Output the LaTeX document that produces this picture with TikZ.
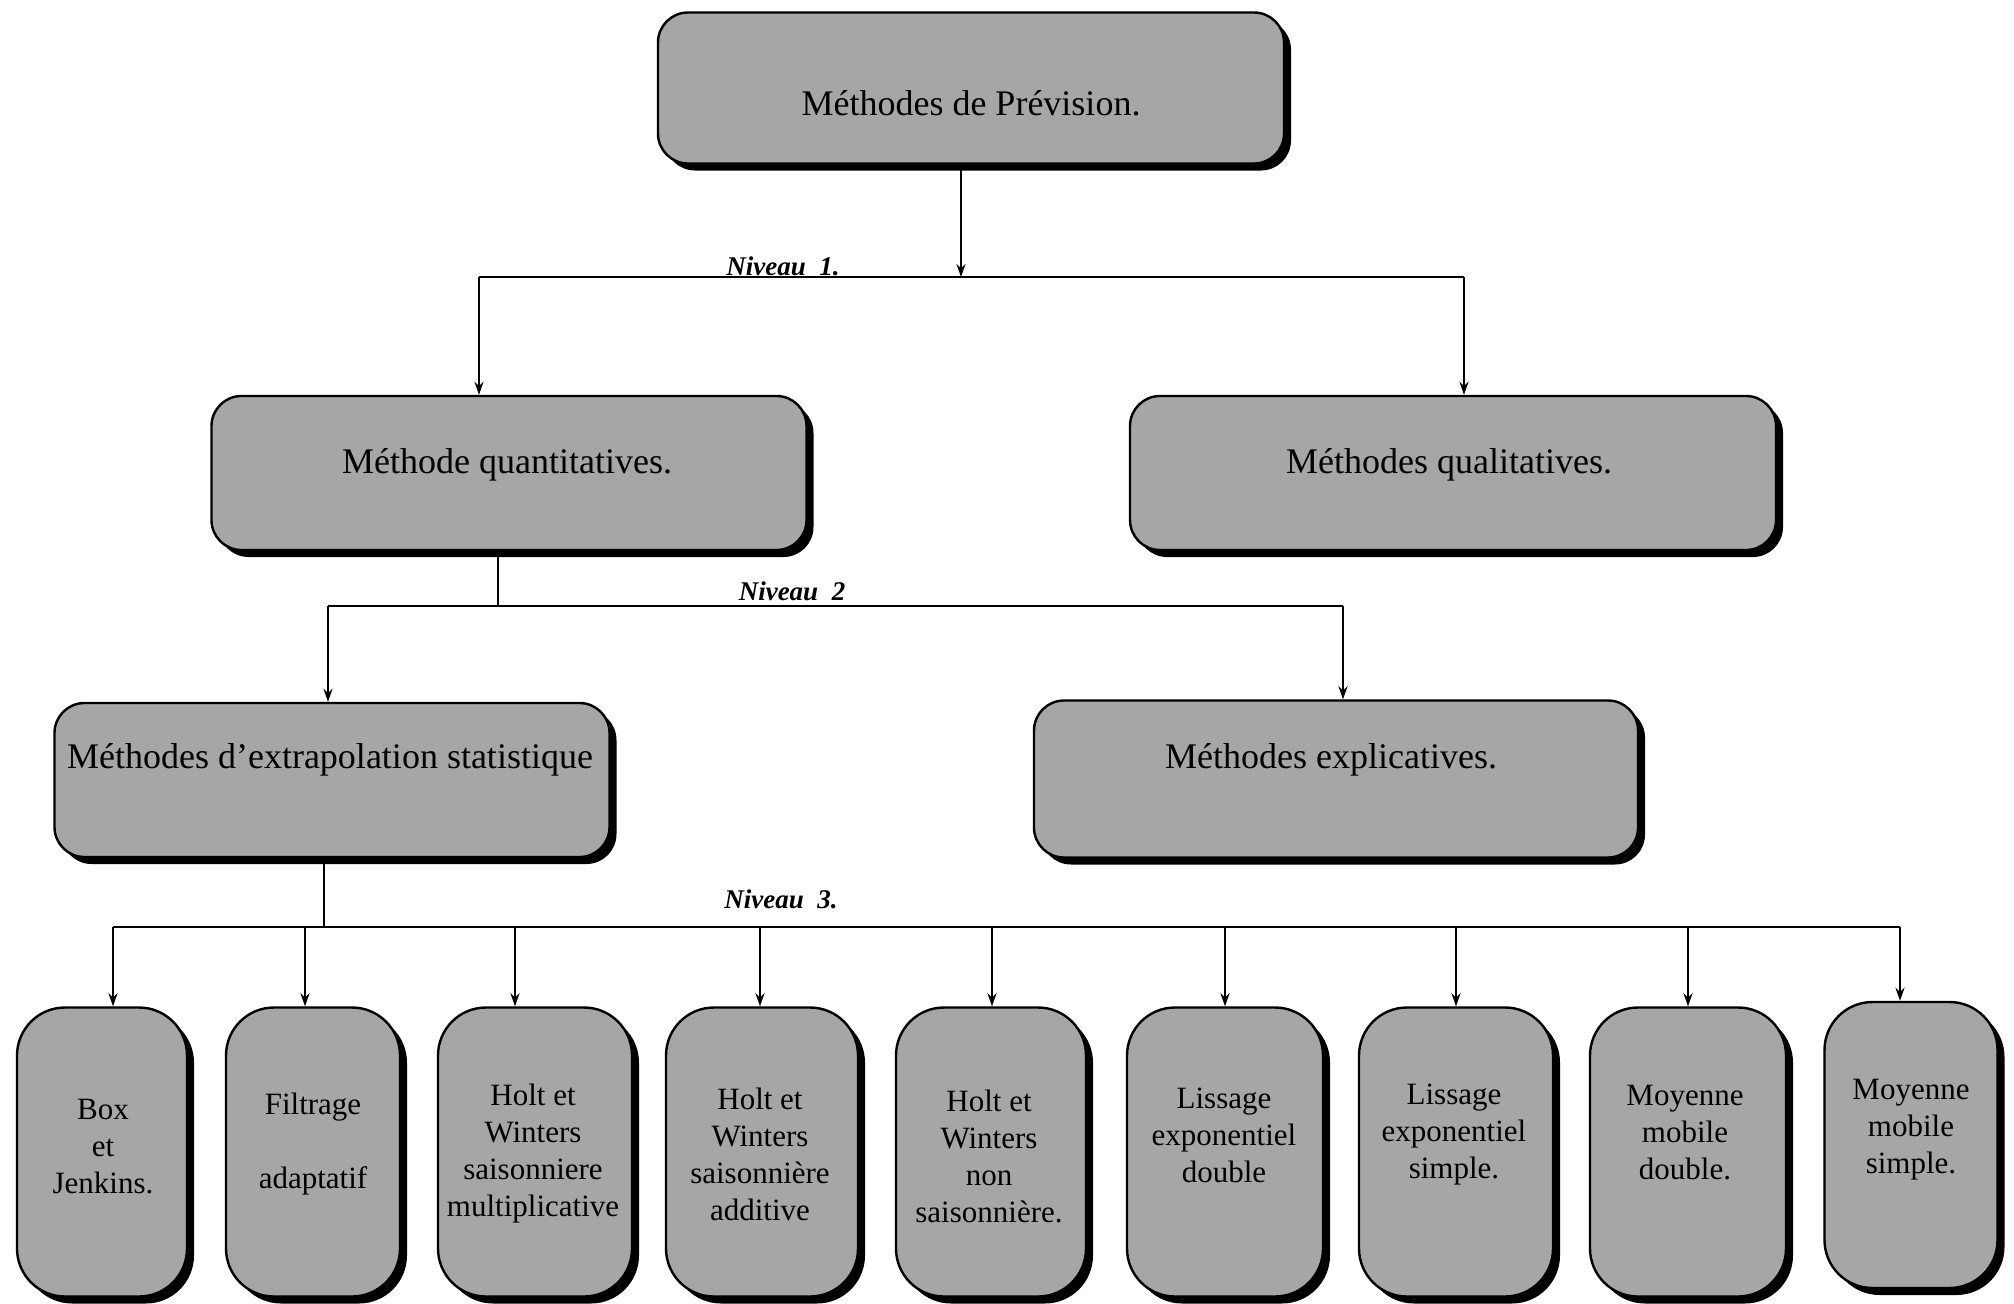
\documentclass[tikz,border=0pt]{standalone}
\usepackage{fontspec}
\setmainfont{Liberation Serif}
\usetikzlibrary{shadows,arrows.meta,calc}
\begin{document}
\begin{tikzpicture}[x=1pt,y=-1pt,
  box/.style={draw=black, line width=2.4pt, fill=black!35, rounded corners=#1,
    drop shadow={shadow xshift=7pt, shadow yshift=-7pt, fill=black, opacity=1},
    inner sep=0pt},
  big/.style={inner sep=0pt, align=center, font=\fontsize{36}{43}\selectfont},
  small/.style={inner sep=0pt, align=center, font=\fontsize{31}{37}\selectfont},
  niv/.style={inner sep=0pt, font=\fontsize{27}{30}\selectfont\bfseries\itshape},
  conn/.style={line width=2.2pt},
  arr/.style={line width=2.2pt, -{Stealth[length=13pt,width=9pt]}}
]
\useasboundingbox (0,0) rectangle (2014,1304);
\fill[white] (0,0) rectangle (2014,1304);

% level 0
\node[box=30pt, minimum width=626pt, minimum height=151pt] (top) at (971,88) {};
\node[big] (ttop) at (971,103) {Méthodes de Prévision.};

% level 1
\node[box=30pt, minimum width=595pt, minimum height=154pt] (quant) at (509,473) {};
\node[big] (tquant) at (507,465) {Méthode quantitatives.};
\node[box=30pt, minimum width=646pt, minimum height=154pt] (qual) at (1453,473) {};
\node[big] (tqual) at (1449,465) {Méthodes qualitatives.};

% level 2
\node[box=30pt, minimum width=555pt, minimum height=154pt] (extrap) at (332,780) {};
\node[big] (textrap) at (330,760) {Méthodes d’extrapolation statistique};
\node[box=30pt, minimum width=604pt, minimum height=157pt] (explic) at (1336,779) {};
\node[big] (texplic) at (1331,760) {Méthodes explicatives.};

% level 3
\node[box=48pt, minimum width=170pt, minimum height=289pt] (b1) at (102,1152) {};
\node[box=48pt, minimum width=174pt, minimum height=289pt] (b2) at (313,1152) {};
\node[box=48pt, minimum width=194pt, minimum height=289pt] (b3) at (535,1152) {};
\node[box=48pt, minimum width=192pt, minimum height=289pt] (b4) at (762,1152) {};
\node[box=48pt, minimum width=190pt, minimum height=289pt] (b5) at (991,1152) {};
\node[box=48pt, minimum width=196pt, minimum height=289pt] (b6) at (1225,1152) {};
\node[box=48pt, minimum width=194pt, minimum height=289pt] (b7) at (1456,1152) {};
\node[box=48pt, minimum width=196pt, minimum height=289pt] (b8) at (1688,1152) {};
\node[box=48pt, minimum width=173pt, minimum height=286pt] (b9) at (1911,1145) {};

\node[small] (t1) at (103,1147) {Box\\et\\Jenkins.};
\node[small] (t2) at (313,1144) {Filtrage\\~\\adaptatif};
\node[small] (t3) at (533,1154) {Holt et\\Winters\\saisonniere\\multiplicative};
\node[small] (t4) at (760,1154) {Holt et\\Winters\\saisonnière\\additive};
\node[small] (t5) at (989,1156) {Holt et\\Winters\\non\\saisonnière.};
\node[small] (t6) at (1224,1135) {Lissage\\exponentiel\\double};
\node[small] (t7) at (1454,1135) {Lissage\\exponentiel\\simple.};
\node[small] (t8) at (1685,1133) {Moyenne\\mobile\\double.};
\node[small] (t9) at (1911,1130) {Moyenne\\mobile\\simple.};

% Niveau 1
\coordinate (j1) at (961,277);
\coordinate (h1L) at (479,277);
\coordinate (h1R) at (1464,277);
\draw[arr] (top.south -| j1) -- (j1);
\draw[conn] (h1L) -- (h1R);
\draw[arr] (h1L) -- (h1L |- quant.north);
\draw[arr] (h1R) -- (h1R |- qual.north);
\node[niv] (n1) at (783,266) {Niveau\ \ 1.};

% Niveau 2
\coordinate (j2) at (498,606);
\coordinate (h2L) at (328,606);
\coordinate (h2R) at (1343,606);
\draw[conn] (quant.south -| j2) -- (j2);
\draw[conn] (h2L) -- (h2R);
\draw[arr] (h2L) -- (h2L |- extrap.north);
\draw[arr] (h2R) -- (h2R |- explic.north);
\node[niv] (n2) at (792,591) {Niveau\ \ 2};

% Niveau 3
\coordinate (j3) at (324,927);
\coordinate (h3L) at (113,927);
\coordinate (h3R) at (1900,927);
\draw[conn] (extrap.south -| j3) -- (j3);
\draw[conn] (h3L) -- (h3R);
\node[niv] (n3) at (781,899) {Niveau\ \ 3.};
\foreach \x/\b in {113/b1, 305/b2, 515/b3, 760/b4, 992/b5, 1225/b6, 1456/b7, 1688/b8, 1900/b9}{
  \coordinate (a\b) at (\x,927);
  \draw[arr] (a\b) -- (a\b |- \b.north);
}
\end{tikzpicture}
\end{document}
